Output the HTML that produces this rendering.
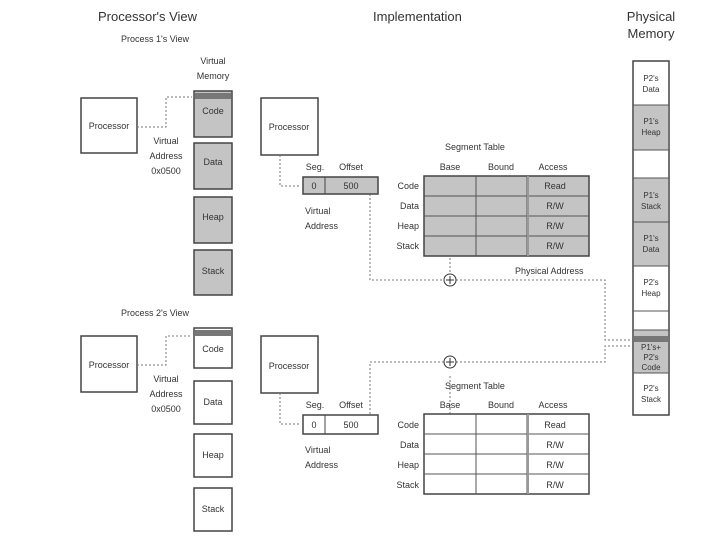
<!DOCTYPE html>
<html><head><style>body{margin:0;background:#fff}svg{display:block}text{font-family:"Liberation Sans",sans-serif;fill:#333}</style></head>
<body>
<svg width="720" height="540" viewBox="0 0 720 540" xmlns="http://www.w3.org/2000/svg">
<g font-size="13"><text x="98" y="21">Processor's View</text><text x="373" y="21">Implementation</text><text x="651" y="21" text-anchor="middle">Physical</text><text x="651" y="38" text-anchor="middle">Memory</text></g>
<g font-size="9">
<text x="155" y="42" text-anchor="middle">Process 1's View</text>
<text x="213" y="64" text-anchor="middle">Virtual</text><text x="213" y="79" text-anchor="middle">Memory</text>
<text x="155" y="316" text-anchor="middle">Process 2's View</text>
</g>
<g stroke="#444" stroke-width="1.5">
<rect x="81" y="98" width="56" height="55" fill="#fff"/>
<rect x="81" y="336" width="56" height="56" fill="#fff"/>
<rect x="261" y="98" width="57" height="57" fill="#fff"/>
<rect x="261" y="336" width="57" height="57" fill="#fff"/>
<rect x="194" y="91" width="38" height="46" fill="#c4c4c4"/>
<rect x="194" y="143" width="38" height="46" fill="#c4c4c4"/>
<rect x="194" y="197" width="38" height="46" fill="#c4c4c4"/>
<rect x="194" y="250" width="38" height="45" fill="#c4c4c4"/>
<rect x="194" y="328" width="38" height="40" fill="#fff"/>
<rect x="194" y="381" width="38" height="43" fill="#fff"/>
<rect x="194" y="434" width="38" height="43" fill="#fff"/>
<rect x="194" y="488" width="38" height="43" fill="#fff"/>
</g>
<rect x="195" y="93" width="36" height="6" fill="#777"/>
<rect x="195" y="330" width="36" height="6" fill="#777"/>
<g font-size="9" text-anchor="middle">
<text x="109" y="129">Processor</text><text x="109" y="368">Processor</text>
<text x="289" y="130">Processor</text><text x="289" y="369">Processor</text>
<text x="213" y="114">Code</text><text x="213" y="165">Data</text><text x="213" y="220">Heap</text><text x="213" y="274">Stack</text>
<text x="213" y="352">Code</text><text x="213" y="405">Data</text><text x="213" y="458">Heap</text><text x="213" y="512">Stack</text>
<text x="166" y="144">Virtual</text><text x="166" y="159">Address</text><text x="166" y="174">0x0500</text>
<text x="166" y="382">Virtual</text><text x="166" y="397">Address</text><text x="166" y="412">0x0500</text>
</g>
<g stroke="#777" stroke-dasharray="2,2" fill="none">
<path d="M137 127 H166 V97 H192"/><path d="M137 365 H166 V336 H192"/>
<path d="M280 155 V186 H301"/><path d="M280 393 V424 H301"/>
<path d="M370 194 V280 H444"/><path d="M456 280 H605 V340 H632"/>
<path d="M450 186 V274"/>
<path d="M370 414 V362 H444"/><path d="M456 362 H605 V346 H632"/>
<path d="M450 376 V424"/>
</g>
<g fill="none" stroke="#333"><circle cx="450" cy="280" r="6"/><circle cx="450" cy="362" r="6"/><path d="M446 280h8M450 276v8M446 362h8M450 358v8"/></g>
<g stroke="#444" stroke-width="1.5"><rect x="303" y="177" width="75" height="17" fill="#c4c4c4"/><rect x="303" y="415" width="75" height="19" fill="#fff"/></g>
<path d="M325 177v17M325 415v19" stroke="#444"/>
<g font-size="9" text-anchor="middle">
<text x="314" y="189">0</text><text x="351" y="189">500</text><text x="314" y="428">0</text><text x="351" y="428">500</text>
<text x="315" y="170">Seg.</text><text x="351" y="170">Offset</text><text x="315" y="408">Seg.</text><text x="351" y="408">Offset</text>
</g>
<g font-size="9"><text x="305" y="214">Virtual</text><text x="305" y="229">Address</text><text x="305" y="453">Virtual</text><text x="305" y="468">Address</text></g>
<g stroke="#444" stroke-width="1.5"><rect x="424" y="176" width="165" height="80" fill="#c4c4c4"/><rect x="424" y="414" width="165" height="80" fill="#fff"/></g>
<g stroke="#555"><path d="M424 196h165M424 216h165M424 236h165M476 176v80M527 176v80"/><path d="M424 434h165M424 454h165M424 474h165M476 414v80M527 414v80"/></g>
<path d="M528 176v80M528 414v80" stroke="#999" stroke-width="2"/>
<g font-size="9" text-anchor="middle">
<text x="475" y="150">Segment Table</text><text x="475" y="389">Segment Table</text>
<text x="450" y="170">Base</text><text x="501" y="170">Bound</text><text x="553" y="170">Access</text>
<text x="450" y="408">Base</text><text x="501" y="408">Bound</text><text x="553" y="408">Access</text>
<text x="555" y="189">Read</text><text x="555" y="209">R/W</text><text x="555" y="229">R/W</text><text x="555" y="249">R/W</text>
<text x="555" y="428">Read</text><text x="555" y="448">R/W</text><text x="555" y="468">R/W</text><text x="555" y="488">R/W</text>
</g>
<g font-size="9" text-anchor="end">
<text x="419" y="189">Code</text><text x="419" y="209">Data</text><text x="419" y="229">Heap</text><text x="419" y="249">Stack</text>
<text x="419" y="428">Code</text><text x="419" y="448">Data</text><text x="419" y="468">Heap</text><text x="419" y="488">Stack</text>
</g>
<text x="515" y="274" font-size="9">Physical Address</text>
<rect x="633" y="61" width="36" height="354" fill="#fff" stroke="#444" stroke-width="1.5"/>
<g fill="#c4c4c4"><rect x="634" y="105" width="34" height="45"/><rect x="634" y="178" width="34" height="88"/><rect x="634" y="330" width="34" height="43"/></g>
<rect x="634" y="336" width="34" height="6" fill="#777"/>
<g stroke="#555"><path d="M633 105h36M633 150h36M633 178h36M633 222h36M633 266h36M633 311h36M633 330h36M633 373h36"/></g>
<g font-size="8" text-anchor="middle">
<text x="651" y="81">P2's</text><text x="651" y="92">Data</text>
<text x="651" y="124">P1's</text><text x="651" y="135">Heap</text>
<text x="651" y="198">P1's</text><text x="651" y="209">Stack</text>
<text x="651" y="241">P1's</text><text x="651" y="252">Data</text>
<text x="651" y="285">P2's</text><text x="651" y="296">Heap</text>
<text x="651" y="350">P1's+</text><text x="651" y="360">P2's</text><text x="651" y="370">Code</text>
<text x="651" y="391">P2's</text><text x="651" y="402">Stack</text>
</g>
</svg>
</body></html>
